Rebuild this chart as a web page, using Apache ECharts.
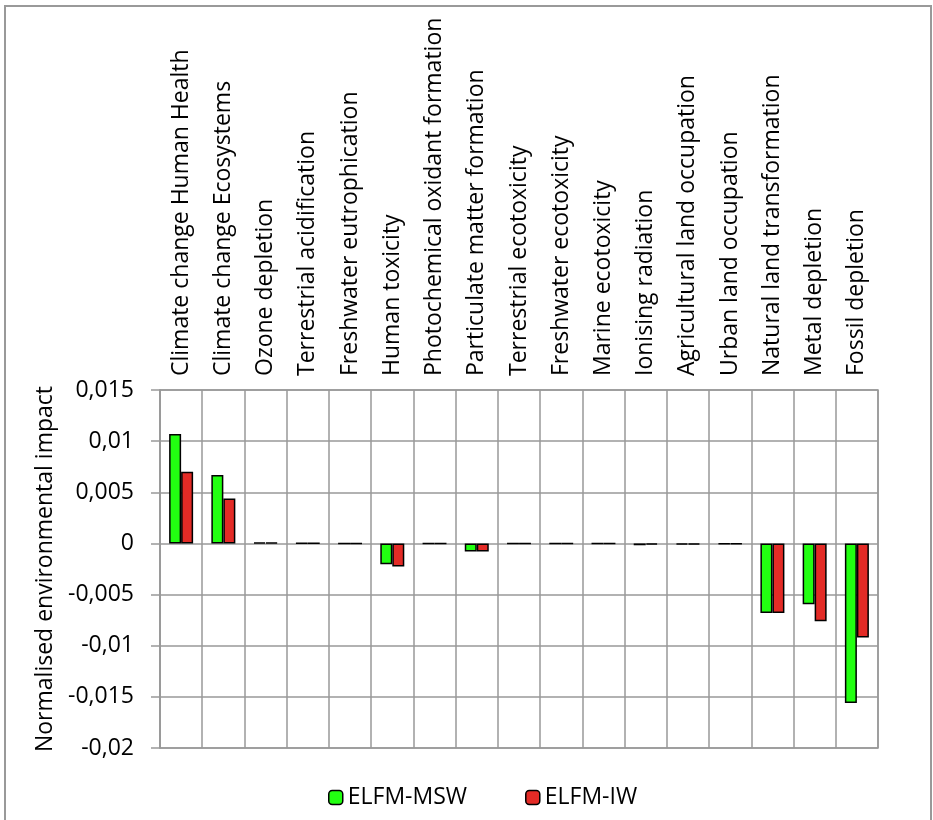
<!DOCTYPE html>
<html>
<head>
<meta charset="utf-8">
<script src="https://cdn.jsdelivr.net/npm/echarts@6/dist/echarts.min.js"></script>
<style>
html,body{margin:0;padding:0;background:#fff;}
#chart{width:933px;height:820px;}
</style>
</head>
<body>
<div id="chart"></div>
<script>
const categories = ['Climate change Human Health','Climate change Ecosystems','Ozone depletion','Terrestrial acidification','Freshwater eutrophication','Human toxicity','Photochemical oxidant formation','Particulate matter formation','Terrestrial ecotoxicity','Freshwater ecotoxicity','Marine ecotoxicity','Ionising radiation','Agricultural land occupation','Urban land occupation','Natural land transformation','Metal depletion','Fossil depletion'];
const msw = [0.0107, 0.0067, 0.00008, 0.00002, 0.00001, -0.00203, 0.00001, -0.0008, 0.00001, 0.00001, 0.00001, -0.00018, -0.0001, -0.00005, -0.0068, -0.00595, -0.0156];
const iw  = [0.0070, 0.0044, 0.00008, 0.00002, 0.00001, -0.00225, 0.00001, -0.0008, 0.00001, 0.00001, 0.00001, -0.00012, -0.0001, -0.00005, -0.0068, -0.0076, -0.0092];
const seriesNames = ['ELFM-MSW','ELFM-IW'];
const yTicks = {min:-0.02, max:0.015, interval:0.005};

const FONT = 'Open Sans';
const chart = echarts.init(document.getElementById('chart'), null, {renderer:'canvas'});
chart.setOption({
  animation:false,
  backgroundColor:'#fff',
  textStyle:{fontFamily:FONT},
  graphic:[{type:'rect', shape:{x:5,y:6,width:926,height:840}, style:{fill:'none', stroke:'#999', lineWidth:2}, silent:true}],
  grid:{left:160, right:55, top:390, bottom:72, show:true, borderColor:'#999', borderWidth:1.5},
  legend:{
    data:seriesNames, bottom:6, left:323, itemWidth:14, itemHeight:14, itemGap:58,
    textStyle:{fontFamily:FONT, fontSize:23, color:'#000'},
    itemStyle:{borderColor:'#000', borderWidth:1.5}
  },
  xAxis:{
    type:'category', data:categories, position:'top',
    axisLine:{show:false, onZero:false}, axisTick:{show:false},
    axisLabel:{rotate:-90, interval:0, margin:14, fontFamily:FONT, fontSize:23, color:'#000'},
    splitLine:{show:true, interval:0, lineStyle:{color:'#999', width:1.5}}
  },
  yAxis:{
    type:'value', min:yTicks.min, max:yTicks.max, interval:yTicks.interval,
    name:'Normalised environmental impact', nameLocation:'middle', nameGap:102,
    nameTextStyle:{fontFamily:FONT, fontSize:23, color:'#000'},
    axisLine:{show:true, lineStyle:{color:'#999', width:1.5}},
    axisTick:{show:true, length:9, lineStyle:{color:'#999', width:1.5}},
    axisLabel:{fontFamily:FONT, fontSize:23, color:'#000', margin:26,
      formatter:v=>{ if (Math.abs(v)<1e-12) return '0'; return String(parseFloat(v.toFixed(4))).replace('.',','); }},
    splitLine:{show:true, lineStyle:{color:'#999', width:1.5}}
  },
  series:[
    {name:seriesNames[0], type:'bar', data:msw, barWidth:12, barGap:'0%',
     itemStyle:{color:'#22FF11', borderColor:'#000', borderWidth:1.5}},
    {name:seriesNames[1], type:'bar', data:iw, barWidth:12, barGap:'0%',
     itemStyle:{color:'#E32B26', borderColor:'#000', borderWidth:1.5}}
  ]
});
</script>
</body>
</html>
